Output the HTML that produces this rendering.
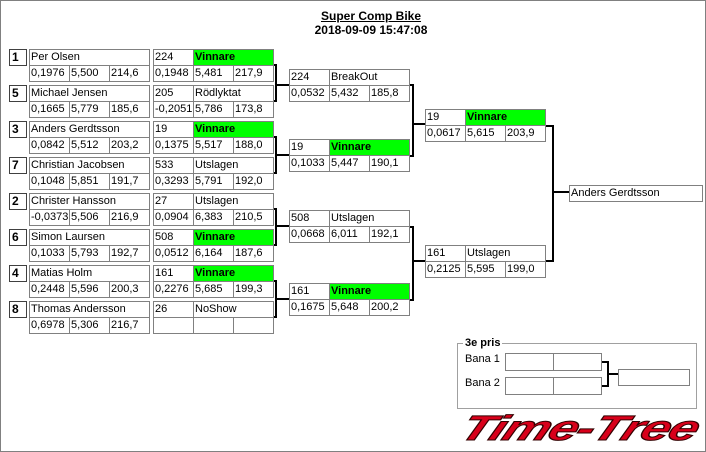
<!DOCTYPE html>
<html><head><meta charset="utf-8"><style>
body{margin:0;width:706px;height:452px;background:#fff;position:relative;overflow:hidden;font-family:"Liberation Sans",sans-serif;font-size:11px;color:#000}
.f{position:absolute;left:0;top:0;width:704px;height:450px;border:1px solid #808080}
.c{position:absolute;box-sizing:border-box;border:1px solid #808080;height:17px;line-height:14px;padding-left:1px;white-space:nowrap;overflow:hidden;background:#fff}
.g{background:#00ff00;font-weight:bold}
.s{position:absolute;box-sizing:border-box;border:1px solid #404040;width:18px;height:17px;font-weight:bold;font-size:12px;line-height:15px;padding-left:2px}
.t{position:absolute;left:0;width:742px;text-align:center;font-weight:bold;font-size:12px}
</style></head><body>
<div class="f"></div>
<div class="t" style="top:9px;text-decoration:underline">Super Comp Bike</div>
<div class="t" style="top:23px">2018-09-09 15:47:08</div>

<div class="s" style="left:9px;top:49px">1</div>
<div class="s" style="left:9px;top:85px">5</div>
<div class="s" style="left:9px;top:121px">3</div>
<div class="s" style="left:9px;top:157px">7</div>
<div class="s" style="left:9px;top:193px">2</div>
<div class="s" style="left:9px;top:229px">6</div>
<div class="s" style="left:9px;top:265px">4</div>
<div class="s" style="left:9px;top:301px">8</div>

<div class="c" style="left:29px;top:49px;width:121px">Per Olsen</div>
<div class="c" style="left:29px;top:65px;width:41px">0,1976</div><div class="c" style="left:69px;top:65px;width:41px">5,500</div><div class="c" style="left:109px;top:65px;width:41px">214,6</div>
<div class="c" style="left:29px;top:85px;width:121px">Michael Jensen</div>
<div class="c" style="left:29px;top:101px;width:41px">0,1665</div><div class="c" style="left:69px;top:101px;width:41px">5,779</div><div class="c" style="left:109px;top:101px;width:41px">185,6</div>
<div class="c" style="left:29px;top:121px;width:121px">Anders Gerdtsson</div>
<div class="c" style="left:29px;top:137px;width:41px">0,0842</div><div class="c" style="left:69px;top:137px;width:41px">5,512</div><div class="c" style="left:109px;top:137px;width:41px">203,2</div>
<div class="c" style="left:29px;top:157px;width:121px">Christian Jacobsen</div>
<div class="c" style="left:29px;top:173px;width:41px">0,1048</div><div class="c" style="left:69px;top:173px;width:41px">5,851</div><div class="c" style="left:109px;top:173px;width:41px">191,7</div>
<div class="c" style="left:29px;top:193px;width:121px">Christer Hansson</div>
<div class="c" style="left:29px;top:209px;width:41px">-0,0373</div><div class="c" style="left:69px;top:209px;width:41px">5,506</div><div class="c" style="left:109px;top:209px;width:41px">216,9</div>
<div class="c" style="left:29px;top:229px;width:121px">Simon Laursen</div>
<div class="c" style="left:29px;top:245px;width:41px">0,1033</div><div class="c" style="left:69px;top:245px;width:41px">5,793</div><div class="c" style="left:109px;top:245px;width:41px">192,7</div>
<div class="c" style="left:29px;top:265px;width:121px">Matias Holm</div>
<div class="c" style="left:29px;top:281px;width:41px">0,2448</div><div class="c" style="left:69px;top:281px;width:41px">5,596</div><div class="c" style="left:109px;top:281px;width:41px">200,3</div>
<div class="c" style="left:29px;top:301px;width:121px">Thomas Andersson</div>
<div class="c" style="left:29px;top:317px;width:41px">0,6978</div><div class="c" style="left:69px;top:317px;width:41px">5,306</div><div class="c" style="left:109px;top:317px;width:41px">216,7</div>

<div class="c" style="left:153px;top:49px;width:41px">224</div><div class="c g" style="left:193px;top:49px;width:81px">Vinnare</div>
<div class="c" style="left:153px;top:65px;width:41px">0,1948</div><div class="c" style="left:193px;top:65px;width:41px">5,481</div><div class="c" style="left:233px;top:65px;width:41px">217,9</div>
<div class="c" style="left:153px;top:85px;width:41px">205</div><div class="c" style="left:193px;top:85px;width:81px">Rödlyktat</div>
<div class="c" style="left:153px;top:101px;width:41px">-0,2051</div><div class="c" style="left:193px;top:101px;width:41px">5,786</div><div class="c" style="left:233px;top:101px;width:41px">173,8</div>
<div class="c" style="left:153px;top:121px;width:41px">19</div><div class="c g" style="left:193px;top:121px;width:81px">Vinnare</div>
<div class="c" style="left:153px;top:137px;width:41px">0,1375</div><div class="c" style="left:193px;top:137px;width:41px">5,517</div><div class="c" style="left:233px;top:137px;width:41px">188,0</div>
<div class="c" style="left:153px;top:157px;width:41px">533</div><div class="c" style="left:193px;top:157px;width:81px">Utslagen</div>
<div class="c" style="left:153px;top:173px;width:41px">0,3293</div><div class="c" style="left:193px;top:173px;width:41px">5,791</div><div class="c" style="left:233px;top:173px;width:41px">192,0</div>
<div class="c" style="left:153px;top:193px;width:41px">27</div><div class="c" style="left:193px;top:193px;width:81px">Utslagen</div>
<div class="c" style="left:153px;top:209px;width:41px">0,0904</div><div class="c" style="left:193px;top:209px;width:41px">6,383</div><div class="c" style="left:233px;top:209px;width:41px">210,5</div>
<div class="c" style="left:153px;top:229px;width:41px">508</div><div class="c g" style="left:193px;top:229px;width:81px">Vinnare</div>
<div class="c" style="left:153px;top:245px;width:41px">0,0512</div><div class="c" style="left:193px;top:245px;width:41px">6,164</div><div class="c" style="left:233px;top:245px;width:41px">187,6</div>
<div class="c" style="left:153px;top:265px;width:41px">161</div><div class="c g" style="left:193px;top:265px;width:81px">Vinnare</div>
<div class="c" style="left:153px;top:281px;width:41px">0,2276</div><div class="c" style="left:193px;top:281px;width:41px">5,685</div><div class="c" style="left:233px;top:281px;width:41px">199,3</div>
<div class="c" style="left:153px;top:301px;width:41px">26</div><div class="c" style="left:193px;top:301px;width:81px">NoShow</div>
<div class="c" style="left:153px;top:317px;width:41px"></div><div class="c" style="left:193px;top:317px;width:41px"></div><div class="c" style="left:233px;top:317px;width:41px"></div>

<div class="c" style="left:289px;top:69px;width:41px">224</div><div class="c" style="left:329px;top:69px;width:81px">BreakOut</div>
<div class="c" style="left:289px;top:85px;width:41px">0,0532</div><div class="c" style="left:329px;top:85px;width:41px">5,432</div><div class="c" style="left:369px;top:85px;width:41px">185,8</div>
<div class="c" style="left:289px;top:139px;width:41px">19</div><div class="c g" style="left:329px;top:139px;width:81px">Vinnare</div>
<div class="c" style="left:289px;top:155px;width:41px">0,1033</div><div class="c" style="left:329px;top:155px;width:41px">5,447</div><div class="c" style="left:369px;top:155px;width:41px">190,1</div>
<div class="c" style="left:289px;top:210px;width:41px">508</div><div class="c" style="left:329px;top:210px;width:81px">Utslagen</div>
<div class="c" style="left:289px;top:226px;width:41px">0,0668</div><div class="c" style="left:329px;top:226px;width:41px">6,011</div><div class="c" style="left:369px;top:226px;width:41px">192,1</div>
<div class="c" style="left:289px;top:283px;width:41px">161</div><div class="c g" style="left:329px;top:283px;width:81px">Vinnare</div>
<div class="c" style="left:289px;top:299px;width:41px">0,1675</div><div class="c" style="left:329px;top:299px;width:41px">5,648</div><div class="c" style="left:369px;top:299px;width:41px">200,2</div>

<div class="c" style="left:425px;top:109px;width:41px">19</div><div class="c g" style="left:465px;top:109px;width:81px">Vinnare</div>
<div class="c" style="left:425px;top:125px;width:41px">0,0617</div><div class="c" style="left:465px;top:125px;width:41px">5,615</div><div class="c" style="left:505px;top:125px;width:41px">203,9</div>
<div class="c" style="left:425px;top:245px;width:41px">161</div><div class="c" style="left:465px;top:245px;width:81px">Utslagen</div>
<div class="c" style="left:425px;top:261px;width:41px">0,2125</div><div class="c" style="left:465px;top:261px;width:41px">5,595</div><div class="c" style="left:505px;top:261px;width:41px">199,0</div>

<div class="c" style="left:569px;top:185px;width:134px">Anders Gerdtsson</div>

<svg style="position:absolute;left:0;top:0" width="706" height="452">
<g fill="none" stroke="#000" stroke-width="2">
<path d="M274 65H276V101H274M276 85H289"/>
<path d="M274 137H276V173H274M276 155H289"/>
<path d="M274 209H276V245H274M276 226H289"/>
<path d="M274 281H276V317H274M276 299H289"/>
<path d="M410 85H413V156H410M413 124H425"/>
<path d="M410 227H413V300H410M413 261H425"/>
<path d="M546 126H553V261H546M553 192H569"/>
<path d="M602 362H608V386H602M608 374H618"/>
</g>
<rect x="457.5" y="343.5" width="239" height="65" fill="none" stroke="#a0a0a0"/>
</svg>

<div style="position:absolute;left:463px;top:337px;background:#fff;padding:0 2px;font-weight:bold;font-size:11px">3e pris</div>
<div style="position:absolute;left:465px;top:353px">Bana 1</div>
<div style="position:absolute;left:465px;top:377px">Bana 2</div>
<div class="c" style="left:505px;top:353px;width:49px;height:18px"></div><div class="c" style="left:553px;top:353px;width:49px;height:18px"></div>
<div class="c" style="left:505px;top:377px;width:49px;height:18px"></div><div class="c" style="left:553px;top:377px;width:49px;height:18px"></div>
<div class="c" style="left:618px;top:369px;width:72px;height:17px"></div>

<div style="position:absolute;left:462px;top:410px;font-size:35px;font-weight:bold;font-style:italic;color:#d8001a;transform-origin:0 50%;transform:scaleX(1.5) skewX(-16deg);letter-spacing:-1px;-webkit-text-stroke:1px #300;line-height:38px;white-space:nowrap">Time-Tree</div>
</body></html>
